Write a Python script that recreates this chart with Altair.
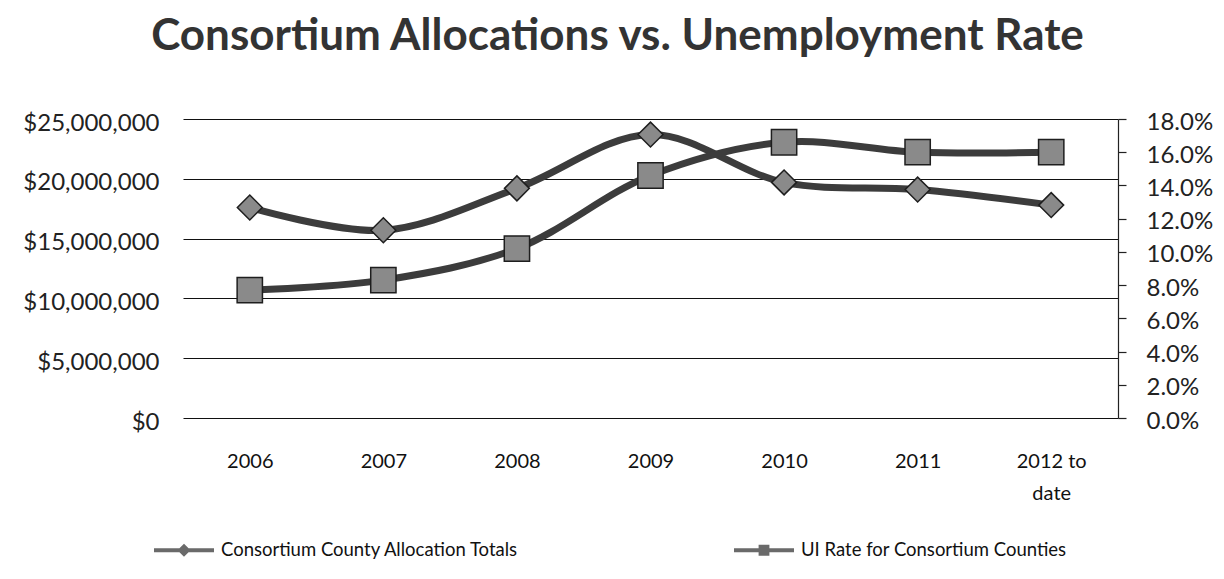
import altair as alt
import pandas as pd

years = ["2006", "2007", "2008", "2009", "2010", "2011", "2012 to date"]
allocations = [17600000, 15700000, 19200000, 23700000, 19700000, 19100000, 17800000]
ui_rates = [0.077, 0.083, 0.102, 0.146, 0.166, 0.160, 0.160]
series_names = ["Consortium County Allocation Totals", "UI Rate for Consortium Counties"]
alloc_ticks = [0, 5000000, 10000000, 15000000, 20000000, 25000000]
rate_ticks = [0.0, 0.02, 0.04, 0.06, 0.08, 0.10, 0.12, 0.14, 0.16, 0.18]

df_a = pd.DataFrame({"year": years, "value": allocations, "series": series_names[0]})
df_b = pd.DataFrame({"year": years, "value": ui_rates, "series": series_names[1]})

FONT = "Lato"
LINE_COLOR = "#3c3c3c"
MARK_FILL = "#8a8a8a"
MARK_STROKE = "#1e1e1e"

LEGEND_DIAMOND = ("M-1,-0.07L-0.12,-0.07L-0.12,0.07L-1,0.07Z "
                  "M0.12,-0.07L1,-0.07L1,0.07L0.12,0.07Z "
                  "M0,-0.22L0.22,0L0,0.22L-0.22,0Z")
LEGEND_SQUARE = ("M-1,-0.07L-0.16,-0.07L-0.16,0.07L-1,0.07Z "
                 "M0.16,-0.07L1,-0.07L1,0.07L0.16,0.07Z "
                 "M-0.18,-0.18L0.18,-0.18L0.18,0.18L-0.18,0.18Z")

x_enc = alt.X(
    "year:N",
    sort=years,
    scale=alt.Scale(type="point", padding=0.5),
    axis=alt.Axis(
        title=None, labelAngle=0, domain=False, ticks=False, grid=False,
        labelFont=FONT, labelFontSize=20, labelColor="#111", labelPadding=33,
        labelLineHeight=32,
        labelExpr="datum.value == '2012 to date' ? ['2012 to', 'date'] : datum.value",
    ),
)

shape_enc = alt.Shape(
    "series:N",
    scale=alt.Scale(domain=series_names, range=[LEGEND_DIAMOND, LEGEND_SQUARE]),
    legend=alt.Legend(
        title=None, orient="none", legendX=-30, legendY=400, direction="horizontal",
        labelFont=FONT, labelFontSize=18.5, labelColor="#111", labelOffset=6, labelLimit=0,
        symbolSize=3600, columnPadding=212, symbolOpacity=1,
        symbolFillColor="#6a6a6a", symbolStrokeColor="#111111", symbolStrokeWidth=1.2,
    ),
)

y_a = alt.Y(
    "value:Q",
    scale=alt.Scale(domain=[0, 25000000]),
    axis=alt.Axis(
        title=None, values=alloc_ticks, format="$,.0f", orient="left",
        domain=False, ticks=False, grid=True, gridColor="#111", gridWidth=1.2, gridOpacity=1,
        labelFont=FONT, labelFontSize=24, labelColor="#222", labelPadding=24, labelOffset=4,
    ),
)
y_b = alt.Y(
    "value:Q",
    scale=alt.Scale(domain=[0, 0.18]),
    axis=alt.Axis(
        title=None, values=rate_ticks, format=".1%", orient="right",
        domain=True, domainColor="#222", domainWidth=1.2,
        ticks=True, tickColor="#222", tickSize=8, tickWidth=1.2, grid=False,
        labelFont=FONT, labelFontSize=24, labelColor="#222", labelPadding=20, labelOffset=3,
    ),
)

line_a = alt.Chart(df_a).mark_line(
    interpolate="catmull-rom", strokeWidth=7, color=LINE_COLOR
).encode(x=x_enc, y=y_a)
pts_a = alt.Chart(df_a).mark_point(
    shape="diamond", filled=True, size=620, fill=MARK_FILL, stroke=MARK_STROKE,
    strokeWidth=1.5, opacity=1
).encode(x=x_enc, y=y_a)
legend_layer = alt.Chart(df_a).mark_point(
    filled=True, opacity=0, fill="#6a6a6a", stroke="#111111", strokeWidth=1.2
).encode(x=x_enc, y=y_a, shape=shape_enc)

line_b = alt.Chart(df_b).mark_line(
    interpolate="catmull-rom", strokeWidth=7, color=LINE_COLOR
).encode(x=x_enc, y=y_b)
pts_b = alt.Chart(df_b).mark_point(
    shape="square", filled=True, size=640, fill=MARK_FILL, stroke=MARK_STROKE,
    strokeWidth=1.5, opacity=1
).encode(x=x_enc, y=y_b)

chart = alt.layer(
    alt.layer(line_a, pts_a, legend_layer),
    alt.layer(line_b, pts_b),
).resolve_scale(y="independent").properties(
    width=935,
    height=299,
    autosize=alt.AutoSizeParams(type="none"),
    padding={"left": 175, "top": 111, "right": 98, "bottom": 150},
    background="white",
    title=alt.TitleParams(
        "Consortium Allocations vs. Unemployment Rate",
        font=FONT, fontSize=44, fontWeight="bold", color="#333333",
        anchor="middle", dx=-33, offset=51,
    ),
).configure_view(stroke=None)

chart.save("out.html", embed_options={"renderer": "svg", "actions": False})
